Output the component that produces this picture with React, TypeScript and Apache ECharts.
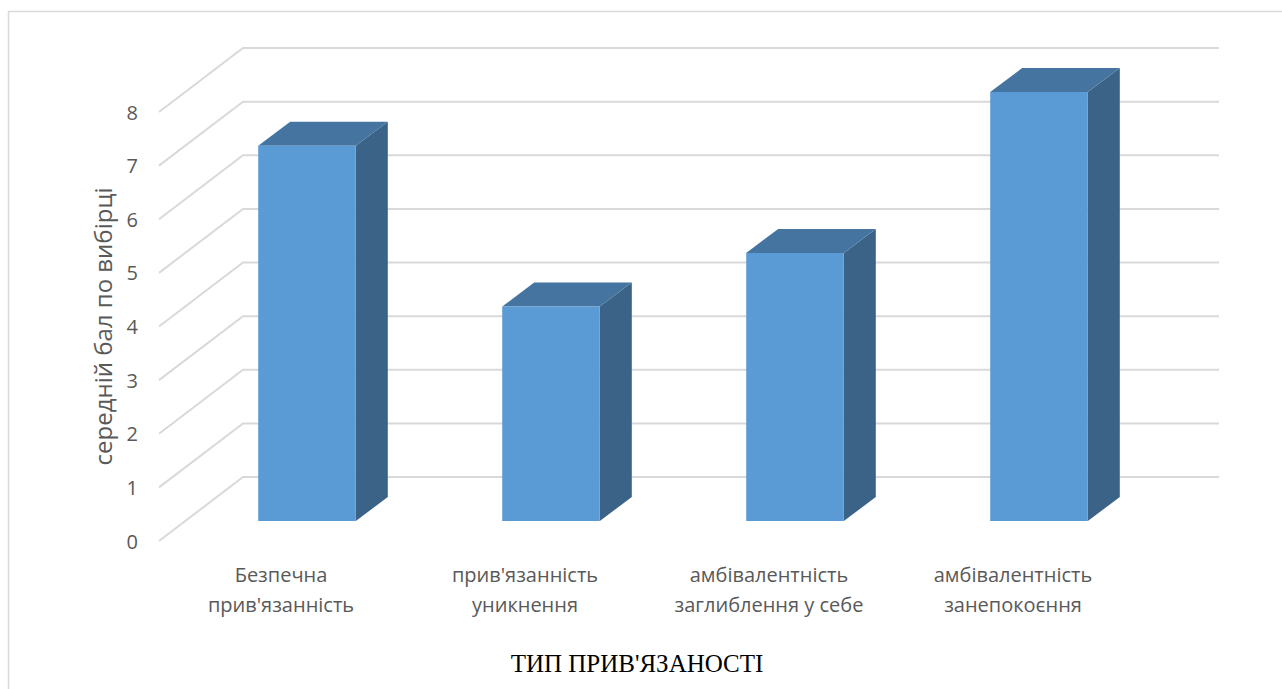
import React, { useEffect, useRef } from "react";
import * as echarts from "echarts";

// Attachment types and their mean scores
const categories: string[] = [
  "Безпечна\nприв'язанність",
  "прив'язанність\nуникнення",
  "амбівалентність\nзаглиблення у себе",
  "амбівалентність\nзанепокоєння",
];
const meanScores: number[] = [7, 4, 5, 8];
const yTicks: number[] = [0, 1, 2, 3, 4, 5, 6, 7, 8];

const yAxisTitle = "середній бал по вибірці";
const xAxisTitle = "ТИП ПРИВ'ЯЗАНОСТІ";

// Pseudo-3D projection offsets (pixels)
const WALL_DX = 84;
const WALL_DY = -64;
const BAR_FRONT_DX = 26;
const BAR_FRONT_DY = -20;
const BAR_DEPTH_DX = 32;
const BAR_DEPTH_DY = -24;

const GRID_COLOR = "#d9d9d9";
const LABEL_COLOR = "#595959";
const FONT = "'Open Sans', 'Noto Sans', sans-serif";

export default function App() {
  const ref = useRef<HTMLDivElement | null>(null);

  useEffect(() => {
    document.body.style.margin = "0";
    if (!ref.current) return;
    const chart = echarts.init(ref.current, undefined, { renderer: "svg" });

    const option: any = {
      animation: false,
      backgroundColor: "#ffffff",
      grid: { left: 159, right: 147, top: 112, bottom: 148 },
      xAxis: {
        type: "category",
        data: categories,
        axisLine: { show: false },
        axisTick: { show: false },
        axisLabel: {
          color: LABEL_COLOR,
          fontFamily: FONT,
          fontSize: 20,
          lineHeight: 30,
          margin: 18,
          interval: 0,
        },
      },
      yAxis: {
        type: "value",
        min: 0,
        max: 8,
        interval: 1,
        axisLine: { show: false },
        axisTick: { show: false },
        splitLine: { show: false },
        axisLabel: {
          color: LABEL_COLOR,
          fontFamily: FONT,
          fontSize: 20,
          margin: 21,
        },
        name: yAxisTitle,
        nameLocation: "middle",
        nameRotate: 90,
        nameGap: 45,
        nameTextStyle: {
          color: LABEL_COLOR,
          fontFamily: FONT,
          fontSize: 24,
        },
      },
      graphic: [
        {
          type: "rect",
          silent: true,
          shape: { x: 8.5, y: 11.5, width: 1300, height: 700 },
          style: { fill: "none", stroke: GRID_COLOR, lineWidth: 1.5 },
          z: -10,
        },
        {
          type: "text",
          x: 637,
          y: 663,
          style: {
            text: xAxisTitle,
            fill: "#000000",
            font: "25px 'Liberation Serif', 'DejaVu Serif', serif",
            align: "center",
            verticalAlign: "middle",
          },
        },
      ],
      series: [
        {
          // back wall gridlines with their receding side diagonals
          type: "custom",
          silent: true,
          z: 1,
          data: yTicks.map((t) => [0, t]),
          encode: { x: 0, y: 1 },
          renderItem: (params: any, api: any) => {
            const cs = params.coordSys;
            const y = api.coord([0, api.value(1)])[1];
            const x0 = cs.x;
            const x1 = cs.x + cs.width;
            return {
              type: "polyline",
              shape: {
                points: [
                  [x0, y],
                  [x0 + WALL_DX, y + WALL_DY],
                  [x1 + WALL_DX, y + WALL_DY],
                ],
              },
              style: { stroke: GRID_COLOR, lineWidth: 2, fill: "none" },
            };
          },
        },
        {
          // 3D bars: front face, top and right side
          type: "custom",
          z: 2,
          data: meanScores.map((v, i) => [i, v]),
          encode: { x: 0, y: 1 },
          renderItem: (params: any, api: any) => {
            const top = api.coord([api.value(0), api.value(1)]);
            const base = api.coord([api.value(0), 0]);
            const band = api.size([1, 0])[0];
            const w = band * 0.4;
            const xl = top[0] - w / 2 + BAR_FRONT_DX;
            const xr = xl + w;
            const yt = top[1] + BAR_FRONT_DY;
            const yb = base[1] + BAR_FRONT_DY;
            const dx = BAR_DEPTH_DX;
            const dy = BAR_DEPTH_DY;
            return {
              type: "group",
              children: [
                {
                  type: "polygon",
                  shape: {
                    points: [
                      [xr, yt],
                      [xr + dx, yt + dy],
                      [xr + dx, yb + dy],
                      [xr, yb],
                    ],
                  },
                  style: { fill: "#3a6387" },
                },
                {
                  type: "polygon",
                  shape: {
                    points: [
                      [xl, yt],
                      [xl + dx, yt + dy],
                      [xr + dx, yt + dy],
                      [xr, yt],
                    ],
                  },
                  style: { fill: "#44749f" },
                },
                {
                  type: "rect",
                  shape: { x: xl, y: yt, width: w, height: yb - yt },
                  style: { fill: "#5b9bd5" },
                },
              ],
            };
          },
        },
      ],
    };

    chart.setOption(option);
    return () => chart.dispose();
  }, []);

  return <div ref={ref} style={{ width: 1282, height: 689 }} />;
}
